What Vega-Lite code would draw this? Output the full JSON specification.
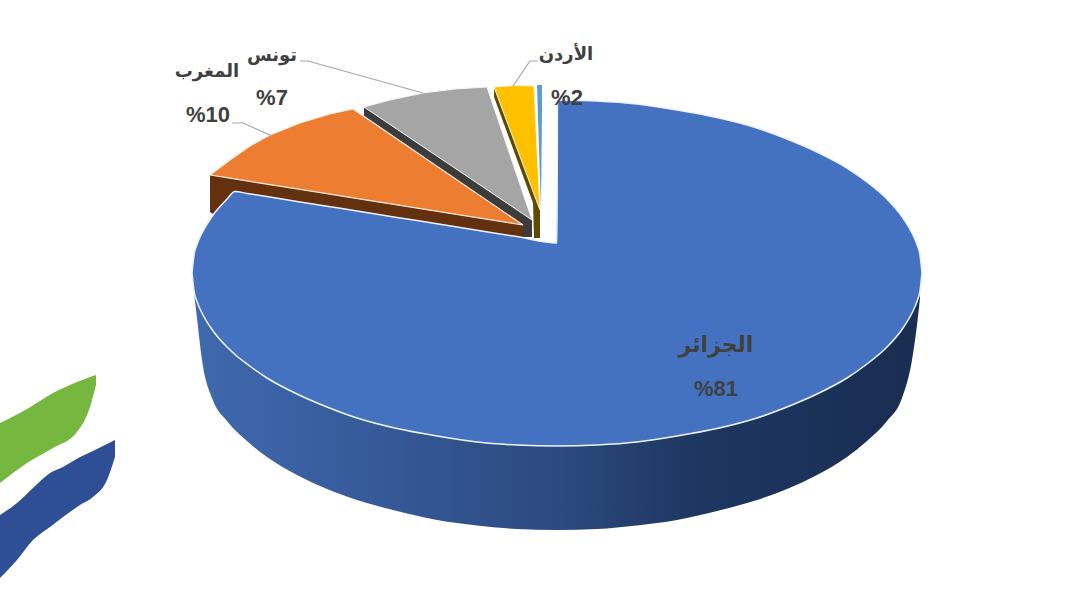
{"$schema":"https://vega.github.io/schema/vega-lite/v6.json","width":1080,"height":601,"padding":0,"autosize":{"type":"fit","contains":"padding"},"background":"white","view":{"stroke":null},
"datasets":{
"shapes":[
{"p":"green","x":0,"y":423,"y2":483},{"p":"green","x":27,"y":409,"y2":463},{"p":"green","x":53,"y":393,"y2":448},{"p":"green","x":77,"y":382,"y2":432},{"p":"green","x":90,"y":377,"y2":407},{"p":"green","x":96,"y":375,"y2":385},
{"p":"navy","x":0,"y":515,"y2":578},{"p":"navy","x":17,"y":503,"y2":560},{"p":"navy","x":33,"y":488,"y2":540},{"p":"navy","x":50,"y":473,"y2":527},{"p":"navy","x":63,"y":467,"y2":517},{"p":"navy","x":80,"y":457,"y2":505},{"p":"navy","x":93,"y":451,"y2":497},{"p":"navy","x":107,"y":444,"y2":480},{"p":"navy","x":115,"y":440,"y2":457},
{"p":"graySide","x":364,"y":107,"y2":116},{"p":"graySide","x":510,"y":205,"y2":216},{"p":"graySide","x":523,"y":213.5,"y2":237},{"p":"graySide","x":532,"y":220,"y2":237},
{"p":"gray","x":364,"y":107,"y2":107},{"p":"gray","x":390,"y":100,"y2":124.5},{"p":"gray","x":423,"y":93,"y2":146.7},{"p":"gray","x":455,"y":89,"y2":168.2},{"p":"gray","x":487,"y":87,"y2":189.7},{"p":"gray","x":532,"y":220,"y2":220},
{"p":"yellowSide","x":494,"y":87,"y2":97},{"p":"yellowSide","x":533,"y":191,"y2":203},{"p":"yellowSide","x":534,"y":194,"y2":238},{"p":"yellowSide","x":540,"y":210,"y2":238},
{"p":"yellow","x":494,"y":87,"y2":87},{"p":"yellow","x":514,"y":85.5,"y2":140.5},{"p":"yellow","x":534,"y":86,"y2":194},{"p":"yellow","x":540,"y":210,"y2":210},
{"p":"sky","x":537,"y":85,"y2":85},{"p":"sky","x":541,"y":85,"y2":210},{"p":"sky","x":542,"y":85,"y2":110},
{"p":"brown","x":210,"y":175,"y2":212},{"p":"brown","x":213,"y":175.5,"y2":214},{"p":"brown","x":214,"y":175.6,"y2":245},{"p":"brown","x":523,"y":225,"y2":245},
{"p":"orange","x":210,"y":175,"y2":175},{"p":"orange","x":230,"y":160,"y2":178.2},{"p":"orange","x":250,"y":146,"y2":181.4},{"p":"orange","x":270,"y":135,"y2":184.6},{"p":"orange","x":300,"y":123,"y2":189.4},{"p":"orange","x":330,"y":114,"y2":194.2},{"p":"orange","x":353,"y":109,"y2":197.9},{"p":"orange","x":523,"y":225,"y2":225},
{"p":"side","x":194,"y":291,"y2":293},{"p":"side","x":197,"y":301.5,"y2":318},{"p":"side","x":202,"y":313,"y2":360},{"p":"side","x":212,"y":329.5,"y2":398},{"p":"side","x":227,"y":347,"y2":421},{"p":"side","x":247,"y":364,"y2":441},{"p":"side","x":267,"y":378,"y2":457},{"p":"side","x":297,"y":394,"y2":475},{"p":"side","x":327,"y":407,"y2":489},{"p":"side","x":357,"y":418,"y2":500},{"p":"side","x":397,"y":428.5,"y2":511},{"p":"side","x":437,"y":436,"y2":520},{"p":"side","x":477,"y":442,"y2":525.5},{"p":"side","x":517,"y":445,"y2":529},{"p":"side","x":557,"y":446,"y2":530},{"p":"side","x":597,"y":445,"y2":529},{"p":"side","x":637,"y":442,"y2":525.5},{"p":"side","x":677,"y":436,"y2":520},{"p":"side","x":717,"y":428.5,"y2":511},{"p":"side","x":757,"y":418,"y2":500},{"p":"side","x":787,"y":407,"y2":489},{"p":"side","x":817,"y":394,"y2":475},{"p":"side","x":847,"y":378,"y2":457},{"p":"side","x":867,"y":364,"y2":441},{"p":"side","x":887,"y":347,"y2":421},{"p":"side","x":902,"y":329.5,"y2":398},{"p":"side","x":912,"y":313,"y2":360},{"p":"side","x":917,"y":301.5,"y2":325},{"p":"side","x":920,"y":291,"y2":298},
{"p":"blue","x":192,"y":273,"y2":273},{"p":"blue","x":194,"y":255,"y2":291},{"p":"blue","x":197,"y":244.5,"y2":301.5},{"p":"blue","x":202,"y":233,"y2":313},{"p":"blue","x":212,"y":216.5,"y2":329.5},{"p":"blue","x":227,"y":199,"y2":347},{"p":"blue","x":235,"y":191.5,"y2":354.5},{"p":"blue","x":247,"y":193.4,"y2":364},{"p":"blue","x":267,"y":196.6,"y2":378},{"p":"blue","x":297,"y":201.4,"y2":394},{"p":"blue","x":327,"y":206.2,"y2":407},{"p":"blue","x":357,"y":211,"y2":418},{"p":"blue","x":397,"y":217.4,"y2":428.5},{"p":"blue","x":437,"y":223.8,"y2":436},{"p":"blue","x":477,"y":230.2,"y2":442},{"p":"blue","x":517,"y":236.6,"y2":445},{"p":"blue","x":557,"y":243,"y2":446},{"p":"blue","x":557.5,"y":100,"y2":446},{"p":"blue","x":597,"y":101,"y2":445},{"p":"blue","x":637,"y":104,"y2":442},{"p":"blue","x":677,"y":110,"y2":436},{"p":"blue","x":717,"y":117.5,"y2":428.5},{"p":"blue","x":757,"y":128,"y2":418},{"p":"blue","x":787,"y":139,"y2":407},{"p":"blue","x":817,"y":152,"y2":394},{"p":"blue","x":847,"y":168,"y2":378},{"p":"blue","x":867,"y":182,"y2":364},{"p":"blue","x":887,"y":199,"y2":347},{"p":"blue","x":902,"y":216.5,"y2":329.5},{"p":"blue","x":912,"y":233,"y2":313},{"p":"blue","x":917,"y":244.5,"y2":301.5},{"p":"blue","x":920,"y":255,"y2":291},{"p":"blue","x":922,"y":273,"y2":273}
],
"leaders":[
{"c":"tunis","x":300,"y":61},{"c":"tunis","x":308,"y":61},{"c":"tunis","x":423,"y":93},
{"c":"morocco","x":232,"y":123},{"c":"morocco","x":243,"y":123},{"c":"morocco","x":272,"y":136},
{"c":"jordan","x":513,"y":86},{"c":"jordan","x":530,"y":61},{"c":"jordan","x":538,"y":61}
],
"labels":[
{"k":"big","t":"الجزائر","x":716,"y":345},{"k":"num","t":"%81","x":716,"y":389},
{"k":"name","t":"المغرب","x":207,"y":72},{"k":"num","t":"%10","x":208,"y":115},
{"k":"name","t":"تونس","x":272,"y":56},{"k":"num","t":"%7","x":272,"y":98},
{"k":"name","t":"الأردن","x":566,"y":55},{"k":"num","t":"%2","x":567,"y":98}
]},
"encoding":{"x":{"field":"x","type":"quantitative","scale":{"domain":[0,1080],"nice":false,"zero":false},"axis":null},"y":{"field":"y","type":"quantitative","scale":{"domain":[601,0],"nice":false,"zero":false},"axis":null}},
"layer":[
{"data":{"name":"shapes"},"transform":[{"filter":{"field":"p","equal":"green"}}],"mark":{"type":"area","color":"#76b83f","interpolate":"monotone"},"encoding":{"y2":{"field":"y2"}}},
{"data":{"name":"shapes"},"transform":[{"filter":{"field":"p","equal":"navy"}}],"mark":{"type":"area","color":"#2e4f96","interpolate":"monotone"},"encoding":{"y2":{"field":"y2"}}},
{"data":{"name":"shapes"},"transform":[{"filter":{"field":"p","equal":"graySide"}}],"mark":{"type":"area","color":"#3c3c3c"},"encoding":{"y2":{"field":"y2"}}},
{"data":{"name":"shapes"},"transform":[{"filter":{"field":"p","equal":"gray"}}],"mark":{"type":"area","color":"#a5a5a5","stroke":"#f4f4f4","strokeWidth":1},"encoding":{"y2":{"field":"y2"}}},
{"data":{"name":"shapes"},"transform":[{"filter":{"field":"p","equal":"yellowSide"}}],"mark":{"type":"area","color":"#5f4b00"},"encoding":{"y2":{"field":"y2"}}},
{"data":{"name":"shapes"},"transform":[{"filter":{"field":"p","equal":"yellow"}}],"mark":{"type":"area","color":"#ffc000","stroke":"#fff6d8","strokeWidth":1},"encoding":{"y2":{"field":"y2"}}},
{"data":{"name":"shapes"},"transform":[{"filter":{"field":"p","equal":"sky"}}],"mark":{"type":"area","color":"#5b9bd5"},"encoding":{"y2":{"field":"y2"}}},
{"data":{"name":"shapes"},"transform":[{"filter":{"field":"p","equal":"brown"}}],"mark":{"type":"area","color":"#633010"},"encoding":{"y2":{"field":"y2"}}},
{"data":{"name":"shapes"},"transform":[{"filter":{"field":"p","equal":"orange"}}],"mark":{"type":"area","color":"#ed7d31","stroke":"#fdeadb","strokeWidth":1.2},"encoding":{"y2":{"field":"y2"}}},
{"data":{"name":"shapes"},"transform":[{"filter":{"field":"p","equal":"side"}}],"mark":{"type":"area","interpolate":"monotone","color":{"gradient":"linear","x1":0,"x2":1,"y1":0,"y2":0,"stops":[{"offset":0,"color":"#3f69ae"},{"offset":0.25,"color":"#365a99"},{"offset":0.5,"color":"#2b4a7f"},{"offset":0.7,"color":"#1e3660"},{"offset":1,"color":"#1a2d52"}]}},"encoding":{"y2":{"field":"y2"}}},
{"data":{"name":"shapes"},"transform":[{"filter":{"field":"p","equal":"blue"}}],"mark":{"type":"area","interpolate":"monotone","color":"#4472c0","stroke":"#eef3fb","strokeWidth":1.5},"encoding":{"y2":{"field":"y2"}}},
{"data":{"name":"leaders"},"mark":{"type":"line","color":"#a6a6a6","strokeWidth":1.2},"encoding":{"detail":{"field":"c"}}},
{"data":{"name":"labels"},"transform":[{"filter":{"field":"k","equal":"num"}}],"mark":{"type":"text","font":"Liberation Sans, DejaVu Sans","fontSize":22,"fontWeight":"bold","color":"#404040","align":"center","baseline":"middle"},"encoding":{"text":{"field":"t"}}},
{"data":{"name":"labels"},"transform":[{"filter":{"field":"k","equal":"big"}}],"mark":{"type":"text","font":"Liberation Sans, DejaVu Sans","fontSize":22,"fontWeight":"bold","color":"#404040","align":"center","baseline":"middle"},"encoding":{"text":{"field":"t"}}},
{"data":{"name":"labels"},"transform":[{"filter":{"field":"k","equal":"name"}}],"mark":{"type":"text","font":"Liberation Sans, DejaVu Sans","fontSize":18,"fontWeight":"bold","color":"#404040","align":"center","baseline":"middle"},"encoding":{"text":{"field":"t"}}}
]}
